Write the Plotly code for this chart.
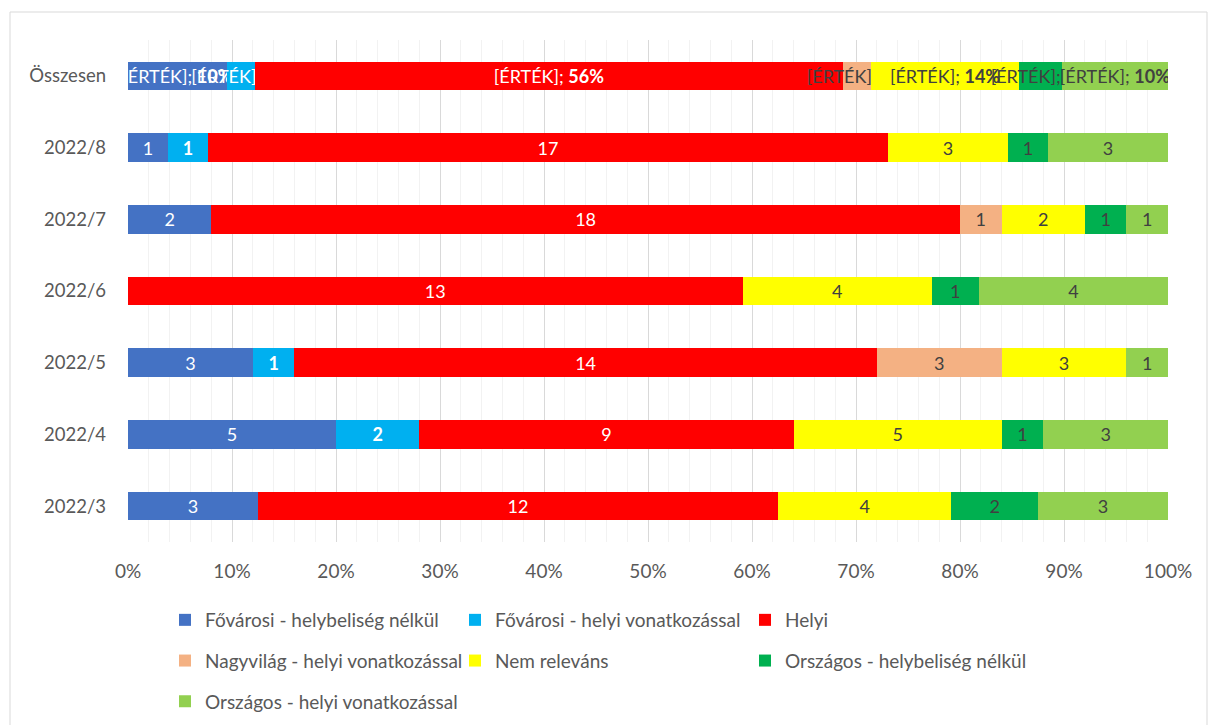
import plotly.graph_objects as go

months = ["2022/3", "2022/4", "2022/5", "2022/6", "2022/7", "2022/8"]
total_label = "Összesen"

names = [
    "Fővárosi - helybeliség nélkül",
    "Fővárosi - helyi vonatkozással",
    "Helyi",
    "Nagyvilág - helyi vonatkozással",
    "Nem releváns",
    "Országos - helybeliség nélkül",
    "Országos - helyi vonatkozással",
]
fovarosi_nelkul = [3, 5, 3, 0, 2, 1]
fovarosi_helyi = [0, 2, 1, 0, 0, 1]
helyi = [12, 9, 14, 13, 18, 17]
nagyvilag_helyi = [0, 0, 3, 0, 1, 0]
nem_relevans = [4, 5, 3, 4, 2, 3]
orszagos_nelkul = [2, 1, 0, 1, 1, 1]
orszagos_helyi = [3, 3, 1, 4, 1, 3]

colors = ["#4472C4", "#00B0F0", "#FF0000", "#F4B183", "#FFFF00", "#00B050", "#92D050"]
text_colors = ["white", "white", "white", "#404040", "#404040", "#404040", "#404040"]
legends = ["legend", "legend2", "legend3", "legend", "legend2", "legend3", "legend"]

series = [fovarosi_nelkul, fovarosi_helyi, helyi, nagyvilag_helyi,
          nem_relevans, orszagos_nelkul, orszagos_helyi]
grand_total = sum(sum(s) for s in series)

FONT = "Lato"
cats = months + [total_label]

fig = go.Figure()
for i, (name, vals) in enumerate(zip(names, series)):
    tot = sum(vals)
    pct = round(100 * tot / grand_total)
    labels = []
    for v in vals:
        if v == 0:
            labels.append("")
        elif i == 1:
            labels.append(f"<b>{v}</b>")
        else:
            labels.append(str(v))
    labels.append(f"[ÉRTÉK]; <b>{pct}%</b>")
    fig.add_trace(go.Bar(
        y=cats, x=vals + [tot], name=name, orientation="h",
        marker=dict(color=colors[i], line=dict(width=0)),
        text=labels, textposition="inside", insidetextanchor="middle",
        textangle=0, constraintext="none", cliponaxis=True,
        textfont=dict(color=text_colors[i], size=18, family=FONT),
        legend=legends[i], legendgroup=name,
    ))

leg_common = dict(orientation="v", xref="container", yref="container",
                  xanchor="left", yanchor="top", y=1 - 601 / 725,
                  font=dict(size=19, color="#595959", family=FONT),
                  tracegroupgap=13, bgcolor="rgba(0,0,0,0)")

fig.update_layout(
    width=1217, height=725,
    barmode="stack", barnorm="percent", bargap=0.6,
    plot_bgcolor="white", paper_bgcolor="white",
    margin=dict(l=128, r=49, t=40, b=183, autoexpand=False),
    font=dict(family=FONT, color="#595959", size=18),
    uniformtext=dict(minsize=18, mode="show"),
    legend=dict(x=165 / 1217, **leg_common),
    legend2=dict(x=455 / 1217, **leg_common),
    legend3=dict(x=745 / 1217, **leg_common),
    xaxis=dict(
        range=[0, 100], dtick=10, ticksuffix="%", showline=False,
        gridcolor="#D9D9D9", gridwidth=1, zeroline=False,
        minor=dict(dtick=2, showgrid=True, gridcolor="#F2F2F2", gridwidth=1),
        tickfont=dict(size=19, color="#595959"), ticklabelstandoff=16,
        fixedrange=True,
    ),
    yaxis=dict(
        categoryorder="array", categoryarray=cats, showgrid=False,
        tickfont=dict(size=18.5, color="#595959"), ticklabelstandoff=21,
        fixedrange=True,
    ),
    showlegend=True,
)

# outer chart border
fig.add_shape(type="rect", xref="paper", yref="paper",
              x0=(10 - 128) / 1040, x1=(1207 - 128) / 1040,
              y0=-0.5, y1=1 + (40 - 12) / 502,
              line=dict(color="#D9D9D9", width=1), layer="below")

fig.write_html("out.html", config={"displayModeBar": False},
               post_script="document.body.style.margin='0';")
